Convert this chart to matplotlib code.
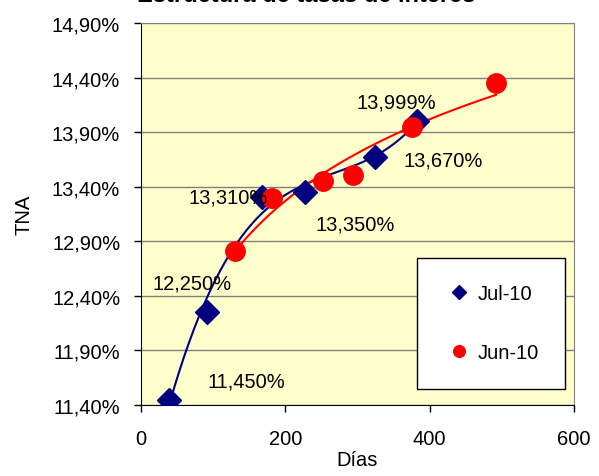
import numpy as np
import matplotlib.pyplot as plt
from matplotlib.ticker import FuncFormatter

plt.rcParams["font.family"] = ["Liberation Sans", "DejaVu Sans"]

# Jul-10 curve (days, TNA %)
jul_days = [39, 91, 168, 227, 324, 382]
jul_tna = [11.45, 12.25, 13.31, 13.35, 13.67, 13.999]

# Jun-10 curve (days, TNA %)
jun_days = [130, 182, 252, 294, 375, 492]
jun_tna = [12.81, 13.30, 13.45, 13.51, 13.95, 14.35]

y_ticks = [11.40, 11.90, 12.40, 12.90, 13.40, 13.90, 14.40, 14.90]
x_ticks = [0, 200, 400, 600]


def pct(v, pos=None):
    return f"{v:.2f}%".replace(".", ",")


fig = plt.figure(figsize=(5.99, 4.77), dpi=100, facecolor="white")
ax = fig.add_axes([0.2354, 0.1488, 0.7229, 0.8009])
ax.set_facecolor("#FFFFCC")

# trend lines
jx = np.array(jul_days, dtype=float)
jy = np.array(jul_tna)
coef_j = np.polyfit(jx, jy, 3)
xs_j = np.linspace(jx.min(), jx.max(), 200)
ax.plot(xs_j, np.polyval(coef_j, xs_j), color="#000080", lw=1.5, zorder=3)

rx = np.array(jun_days, dtype=float)
ry = np.array(jun_tna)
coef_r = np.polyfit(np.log(rx), ry, 1)
xs_r = np.linspace(rx.min(), rx.max(), 200)
ax.plot(xs_r, np.polyval(coef_r, np.log(xs_r)), color="#FF0000", lw=1.5, zorder=3)

ax.plot(jul_days, jul_tna, ls="none", marker="D", ms=12, color="#000080",
        label="Jul-10", zorder=4)
ax.plot(jun_days, jun_tna, ls="none", marker="o", ms=14, color="#FF0000",
        label="Jun-10", zorder=4)

# data labels for Jul-10 points (offsets in pixels, up is positive)
offsets = [(77, 19), (-15, 29), (-34, 0), (50, -32), (68, -3), (-20, 19)]
for d, v, (dx, dy) in zip(jul_days, jul_tna, offsets):
    ax.annotate(f"{v:.3f}%".replace(".", ","), (d, v), xytext=(dx, dy),
                textcoords="offset pixels", ha="center", va="center",
                fontsize=14.5, color="black", zorder=5)

ax.set_xlim(0, 600)
ax.set_ylim(11.40, 14.90)
ax.set_xticks(x_ticks)
ax.set_yticks(y_ticks)
ax.yaxis.set_major_formatter(FuncFormatter(pct))
ax.tick_params(labelsize=14.5, length=5, width=1, color="black", direction="out")
ax.tick_params(axis="y", pad=10)
ax.tick_params(axis="x", pad=12)
ax.grid(axis="y", color="#808080", lw=1)
ax.set_axisbelow(True)

for side in ["top", "right"]:
    ax.spines[side].set_color("#808080")
for side in ["left", "bottom"]:
    ax.spines[side].set_color("black")

ax.set_xlabel("Días", fontsize=14.5, labelpad=2)
ax.set_ylabel("TNA", fontsize=14.5, labelpad=13)

fig.text(0.511, 0.9960, "Estructura de tasas de interés", ha="center",
         va="baseline", fontsize=17, fontweight="bold")

leg = ax.legend(loc="upper left", bbox_to_anchor=(0.696, 0.457),
                bbox_transform=fig.transFigure, borderaxespad=0,
                fancybox=False, framealpha=1, edgecolor="black",
                fontsize=14.5, markerscale=0.6, handlelength=1.6,
                handletextpad=0.1, labelspacing=2.0, borderpad=1.3)
leg.get_frame().set_linewidth(1)

fig.savefig("out.png", dpi=100, facecolor="white")
